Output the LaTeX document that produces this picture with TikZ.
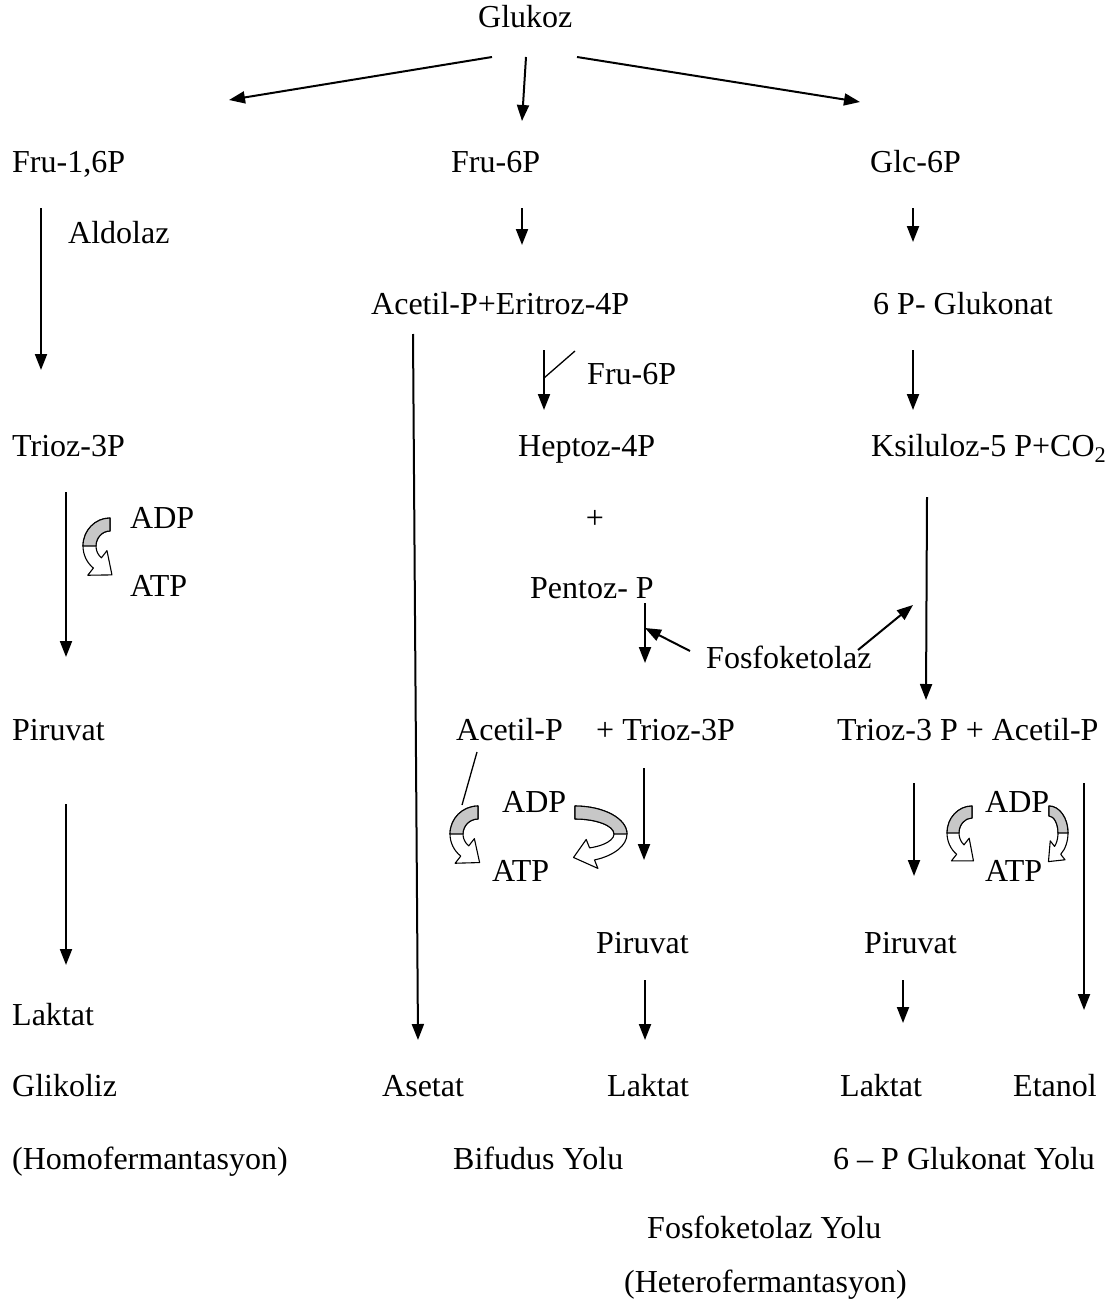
\documentclass[tikz,border=0pt]{standalone}
\usepackage{fontspec}
\setmainfont{Liberation Serif}
\usetikzlibrary{arrows.meta}
\newcommand\bandarrow[8]{%
\begin{scope}[shift={#1}, yscale=-1]
\pgfmathsetmacro\bAi{#2-#4}\pgfmathsetmacro\bBi{#3-#4}%
\pgfmathsetmacro\bAm{#2-#4/2}\pgfmathsetmacro\bBm{#3-#4/2}%
\pgfmathsetmacro\bAh{#2+0.7*#4}\pgfmathsetmacro\bBh{#3+0.7*#4}%
\pgfmathsetmacro\bAj{#2-#4-0.7*#4}\pgfmathsetmacro\bBj{#3-#4-0.7*#4}%
\pgfmathsetmacro\bMx{\bAm*cos(#7)}\pgfmathsetmacro\bMy{\bBm*sin(#7)}%
\pgfmathsetmacro\bTx{-#8*\bAm*sin(#7)}\pgfmathsetmacro\bTy{#8*\bBm*cos(#7)}%
\pgfmathsetmacro\bTn{sqrt(\bTx*\bTx+\bTy*\bTy)}%
\pgfmathsetmacro\bPx{\bMx+1.45*#4*\bTx/\bTn}\pgfmathsetmacro\bPy{\bMy+1.45*#4*\bTy/\bTn}%
\filldraw[fill=white, line width=1.1pt, line join=round] ({#2*cos(#5)},{#3*sin(#5)}) arc[start angle=#5, end angle=#7, x radius=#2, y radius=#3]
  -- ({\bAh*cos(#7)},{\bBh*sin(#7)}) -- (\bPx,\bPy) -- ({\bAj*cos(#7)},{\bBj*sin(#7)}) -- ({\bAi*cos(#7)},{\bBi*sin(#7)})
  arc[start angle=#7, end angle=#5, x radius=\bAi, y radius=\bBi] -- cycle;
\filldraw[fill=black!22, line width=1.1pt, line join=round] ({#2*cos(#5)},{#3*sin(#5)}) arc[start angle=#5, end angle=#6, x radius=#2, y radius=#3]
  -- ({\bAi*cos(#6)},{\bBi*sin(#6)}) arc[start angle=#6, end angle=#5, x radius=\bAi, y radius=\bBi] -- cycle;
\end{scope}}
\tikzset{
  lbl/.style={anchor=base west, inner sep=0pt, font=\fontsize{32}{38}\selectfont},
  arr/.style={line width=2pt, -{Triangle[length=16pt,width=12pt]}},
  plain/.style={line width=1.3pt}
}
\begin{document}
\begin{tikzpicture}[x=1pt,y=-1pt]
\useasboundingbox (0,0) rectangle (1117,1303);
% texts
\node[lbl] (glukoz) at (478,28) {Glukoz};
\node[lbl] (fru16) at (12,172) {Fru-1,6P};
\node[lbl] (aldolaz) at (68,243) {Aldolaz};
\node[lbl] (fru6) at (451,172) {Fru-6P};
\node[lbl] (glc6) at (870,172) {Glc-6P};
\node[lbl] (acer) at (371,314) {Acetil-P+Eritroz-4P};
\node[lbl] (glukonat) at (873,314) {6 P- Glukonat};
\node[lbl] (fru6b) at (587,384) {Fru-6P};
\node[lbl] (trioz) at (12,456) {Trioz-3P};
\node[lbl] (heptoz) at (518,456) {Heptoz-4P};
\node[lbl] (ksil) at (871,456) {Ksiluloz-5 P+CO\textsubscript{2}};
\node[lbl] (adp1) at (130,528) {ADP};
\node[lbl, anchor=base] (plus) at (595,528) {+};
\node[lbl] (atp1) at (130,596) {ATP};
\node[lbl] (pentoz) at (530,598) {Pentoz- P};
\node[lbl] (fosfo) at (706,668) {Fosfoketolaz};
\node[lbl] (piruvat1) at (12,740) {Piruvat};
\node[lbl] (acetilp) at (456,740) {Acetil-P};
\node[lbl] (ptrioz) at (596,740) {+ Trioz-3P};
\node[lbl] (trac) at (837,740) {Trioz-3 P + Acetil-P};
\node[lbl] (adp2) at (502,812) {ADP};
\node[lbl] (adp3) at (985,812) {ADP};
\node[lbl] (atp2) at (492,881) {ATP};
\node[lbl] (atp3) at (985,881) {ATP};
\node[lbl] (piruvat2) at (596,953) {Piruvat};
\node[lbl] (piruvat3) at (864,953) {Piruvat};
\node[lbl] (laktat1) at (12,1025) {Laktat};
\node[lbl] (glikoliz) at (12,1096) {Glikoliz};
\node[lbl] (asetat) at (382,1096) {Asetat};
\node[lbl] (laktat2) at (607,1096) {Laktat};
\node[lbl] (laktat3) at (840,1096) {Laktat};
\node[lbl] (etanol) at (1013,1096) {Etanol};
\node[lbl] (homo) at (12,1169) {(Homofermantasyon)};
\node[lbl] (bifudus) at (453,1169) {Bifudus Yolu};
\node[lbl] (pglukonat) at (833,1169) {6 -- P Glukonat Yolu};
\node[lbl] (fosfoyolu) at (647,1238) {Fosfoketolaz Yolu};
\node[lbl] (hetero) at (624,1292) {(Heterofermantasyon)};
% connector end points
\coordinate (gA) at (492,57);  \coordinate (gAe) at (229,100);
\coordinate (gB) at (526,57);  \coordinate (gBe) at (522,121);
\coordinate (gC) at (577,57);  \coordinate (gCe) at (860,102);
\coordinate (l1) at (41,208);  \coordinate (l1e) at (41,370);
\coordinate (l2) at (66,492);  \coordinate (l2e) at (66,657);
\coordinate (l3) at (66,804);  \coordinate (l3e) at (66,965);
\coordinate (m1) at (522,208); \coordinate (m1e) at (522,245);
\coordinate (m2) at (413,334); \coordinate (m2e) at (418,1040);
\coordinate (m3) at (544,350); \coordinate (m3e) at (544,410);
\coordinate (m3a) at (544,378); \coordinate (m3b) at (575,351);
\coordinate (m4) at (645,603); \coordinate (m4e) at (645,663);
\coordinate (f1) at (690,651); \coordinate (f1e) at (645,628);
\coordinate (f2) at (858,650); \coordinate (f2e) at (913,605);
\coordinate (m5) at (644,768); \coordinate (m5e) at (644,860);
\coordinate (m6) at (645,980); \coordinate (m6e) at (645,1040);
\coordinate (ac1) at (477,752); \coordinate (ac2) at (462,805);
\coordinate (r1) at (913,208); \coordinate (r1e) at (913,242);
\coordinate (r2) at (913,350); \coordinate (r2e) at (913,410);
\coordinate (r3) at (927,497); \coordinate (r3e) at (926,700);
\coordinate (r4) at (914,783); \coordinate (r4e) at (914,876);
\coordinate (r5) at (903,980); \coordinate (r5e) at (903,1023);
\coordinate (r6) at (1084,783); \coordinate (r6e) at (1084,1010);
% arrows
\draw[arr] (gA) -- (gAe);
\draw[arr] (gB) -- (gBe);
\draw[arr] (gC) -- (gCe);
\draw[arr] (l1) -- (l1e);
\draw[arr] (l2) -- (l2e);
\draw[arr] (l3) -- (l3e);
\draw[arr] (m1) -- (m1e);
\draw[arr] (m2) -- (m2e);
\draw[arr] (m3) -- (m3e);
\draw[plain] (m3a) -- (m3b);
\draw[arr] (m4) -- (m4e);
\draw[arr] (f1) -- (f1e);
\draw[arr] (f2) -- (f2e);
\draw[arr] (m5) -- (m5e);
\draw[arr] (m6) -- (m6e);
\draw[plain] (ac1) -- (ac2);
\draw[arr] (r1) -- (r1e);
\draw[arr] (r2) -- (r2e);
\draw[arr] (r3) -- (r3e);
\draw[arr] (r4) -- (r4e);
\draw[arr] (r5) -- (r5e);
\draw[arr] (r6) -- (r6e);
% curved block arrows
\bandarrow{(110,546)}{27}{28}{13}{90}{180}{232}{1}
\bandarrow{(478,834)}{28}{28}{13}{90}{180}{232}{1}
\bandarrow{(575,834)}{52}{28}{13}{90}{0}{-68}{-1}
\bandarrow{(972,833)}{25}{27}{12}{90}{180}{232}{1}
\bandarrow{(1049,833)}{19}{27}{10}{90}{0}{-52}{-1}
\end{tikzpicture}
\end{document}
